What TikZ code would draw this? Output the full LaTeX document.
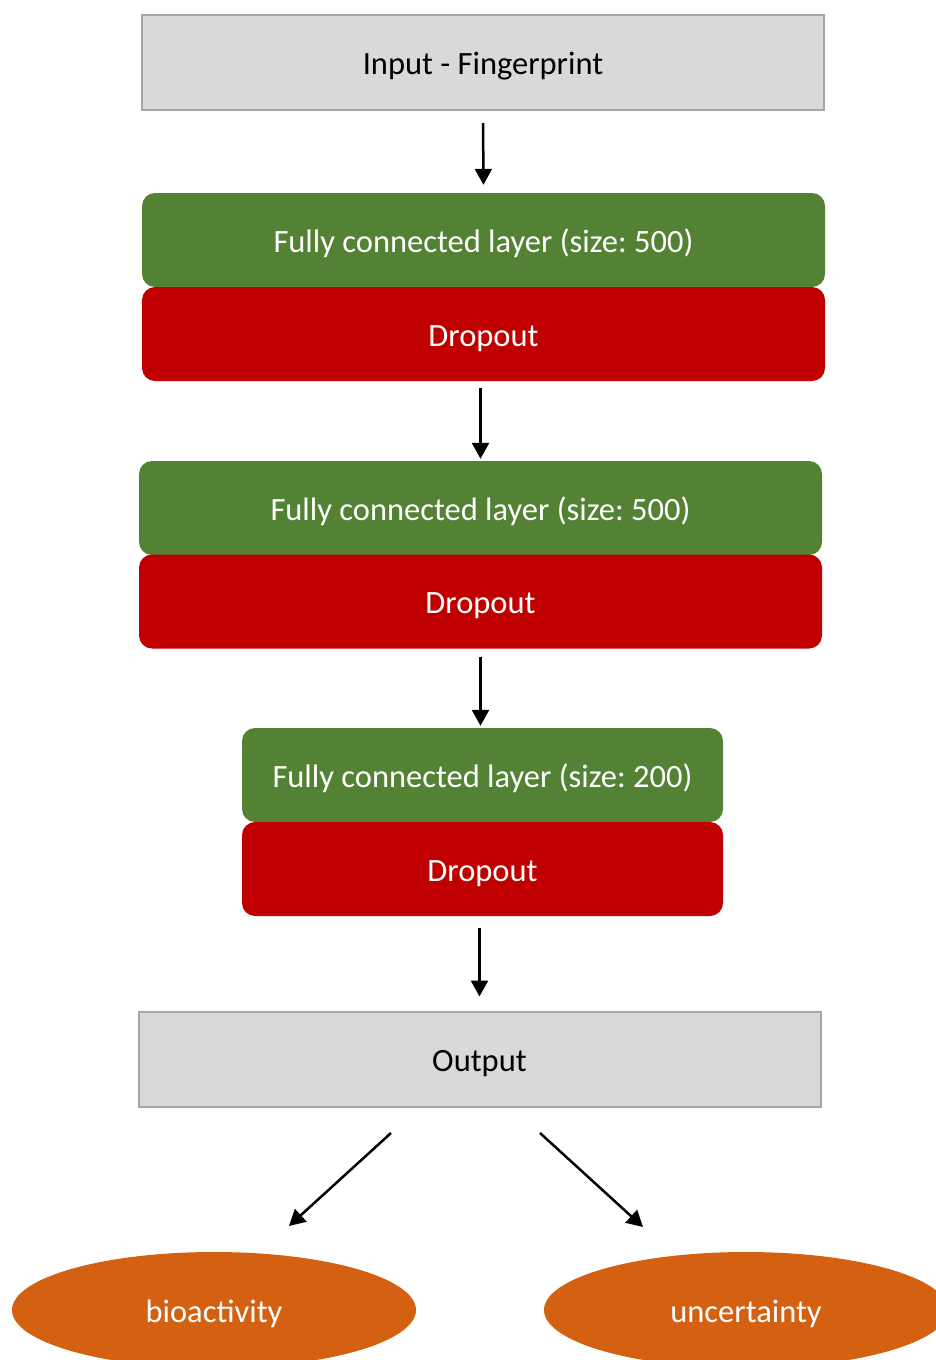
\documentclass[tikz,border=0pt]{standalone}
\usepackage{fontspec}
\setmainfont{Carlito}
\usetikzlibrary{shapes.geometric,arrows.meta}
\definecolor{boxgray}{HTML}{D9D9D9}
\definecolor{edgegray}{HTML}{A6A6A6}
\definecolor{layergreen}{HTML}{548235}
\definecolor{dropred}{HTML}{C00000}
\definecolor{outorange}{RGB}{211,97,17}
\tikzset{
  lbl/.style={font=\fontsize{32.5}{38}\selectfont,text height=30pt,text depth=6pt},
  graybox/.style={lbl,rectangle,fill=boxgray,draw=edgegray,line width=2pt,minimum width=682pt,minimum height=95pt,inner sep=0pt,text=black},
  fcbox/.style={lbl,rectangle,rounded corners=13pt,fill=layergreen,minimum height=94pt,inner sep=0pt,text=white},
  dobox/.style={lbl,rectangle,rounded corners=13pt,fill=dropred,minimum height=94pt,inner sep=0pt,text=white},
  outell/.style={lbl,ellipse,fill=outorange,minimum width=404pt,minimum height=116pt,inner sep=0pt,text=white},
  arr/.style={line width=2.5pt,-{Triangle[length=16pt,width=17pt]}}
}
\begin{document}
\frenchspacing
\begin{tikzpicture}[x=1pt,y=-1pt]
\useasboundingbox (0,0) rectangle (936,1360);
\clip (0,0) rectangle (936,1360);
\node[graybox] (in) at (483,62.5) {Input - Fingerprint};
\node[fcbox,minimum width=683pt] (g1) at (483.5,240) {Fully connected layer (size: 500)};
\node[dobox,minimum width=683pt] (r1) at (483.5,334) {Dropout};
\node[fcbox,minimum width=683pt] (g2) at (480.5,508) {Fully connected layer (size: 500)};
\node[dobox,minimum width=683pt] (r2) at (480.5,601.5) {Dropout};
\node[fcbox,minimum width=481pt] (g3) at (482.5,775) {Fully connected layer (size: 200)};
\node[dobox,minimum width=481pt] (r3) at (482.5,869) {Dropout};
\node[graybox] (out) at (479.5,1059) {Output};
\node[outell] (bio) at (214,1310) {bioactivity};
\node[outell] (unc) at (746,1310) {uncertainty};
\coordinate (o1) at (391,1133);
\coordinate (b1) at (289,1226);
\coordinate (o2) at (540,1133);
\coordinate (u1) at (643,1227);
\draw[arr,shorten <=12pt,shorten >=8pt] (in.south) -- (g1.north);
\draw[arr,shorten <=7pt,shorten >=2pt] (g2.north |- r1.south) -- (g2.north);
\draw[arr,shorten <=8pt,shorten >=2pt] (r2.south) -- (r2.south |- g3.north);
\draw[arr,shorten <=12pt,shorten >=14pt] (out.north |- r3.south) -- (out.north);
\draw[arr] (o1) -- (b1);
\draw[arr] (o2) -- (u1);
\end{tikzpicture}
\end{document}
